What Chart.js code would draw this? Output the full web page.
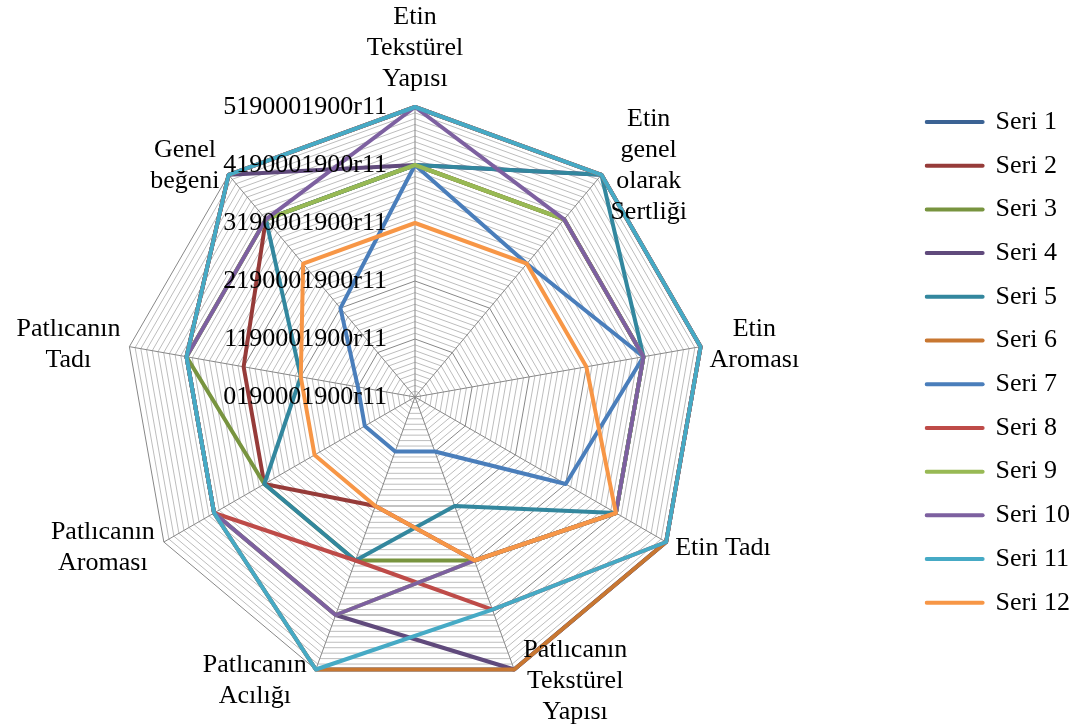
<!DOCTYPE html>
<html>
<head>
<meta charset="utf-8">
<script src="https://cdn.jsdelivr.net/npm/chart.js@4.4.0/dist/chart.umd.min.js"></script>
<style>
html,body{margin:0;padding:0;background:#ffffff;}
#wrap{width:1080px;height:727px;position:relative;}
</style>
</head>
<body>
<div id="wrap"><canvas id="c" width="1080" height="727"></canvas></div>
<script>
// ---- data ----
const categories = [
  ["Etin", "Tekstürel", "Yapısı"],
  ["Etin", "genel", "olarak", "Sertliği"],
  ["Etin", "Aroması"],
  ["Etin Tadı"],
  ["Patlıcanın", "Tekstürel", "Yapısı"],
  ["Patlıcanın", "Acılığı"],
  ["Patlıcanın", "Aroması"],
  ["Patlıcanın", "Tadı"],
  ["Genel", "beğeni"]
];
const seriesNames = ["Seri 1","Seri 2","Seri 3","Seri 4","Seri 5","Seri 6","Seri 7","Seri 8","Seri 9","Seri 10","Seri 11","Seri 12"];
const seri1  = [5, 5, 5, 5, 5,   5, 4, 4, 5];
const seri2  = [4, 4, 4, 4, 3,   2, 3, 3, 4];
const seri3  = [4, 4, 4, 4, 3,   3, 3, 4, 4];
const seri4  = [4, 5, 5, 5, 5,   4, 4, 4, 5];
const seri5  = [4, 5, 4, 4, 2,   3, 3, 2, 4];
const seri6  = [5, 5, 5, 5, 5,   5, 4, 4, 5];
const seri7  = [4, 3, 4, 3, 1,   1, 1, 1, 2];
const seri8  = [5, 5, 5, 5, 3.9, 3, 4, 4, 5];
const seri9  = [4, 4, 4, 4, 3,   4, 4, 4, 4];
const seri10 = [5, 4, 4, 4, 3,   4, 4, 4, 4];
const seri11 = [5, 5, 5, 5, 3.9, 5, 4, 4, 5];
const seri12 = [3, 3, 3, 4, 3,   2, 2, 2, 3];
const tickValues = [0, 1, 2, 3, 4, 5];
const tickLabels = ["0190001900r11","1190001900r11","2190001900r11","3190001900r11","4190001900r11","5190001900r11"];

// ---- styles ----
const seriesColors = ["#3b6394","#963b39","#78943f","#604a7c","#33879e","#c87731",
                      "#4a7ebb","#be4b48","#98b954","#7d60a0","#46aac5","#f79646"];
const FONT = '"Liberation Serif", "Times New Roman", serif';
const FONT_SIZE = 26;

const allValues = [seri1,seri2,seri3,seri4,seri5,seri6,seri7,seri8,seri9,seri10,seri11,seri12];

const datasets = seriesNames.map((name, i) => ({
  label: name,
  data: allValues[i],
  borderColor: seriesColors[i],
  backgroundColor: seriesColors[i],
  borderWidth: 4,
  fill: false,
  pointRadius: 0,
  pointHoverRadius: 0,
  pointHitRadius: 0,
  tension: 0,
  borderJoinStyle: 'round',
  borderCapStyle: 'round',
  order: seriesNames.length - 1 - i
}));

function isMajor(v) { return Math.abs(v - Math.round(v)) < 1e-6; }

const textPlugin = {
  id: 'excelTexts',
  afterDatasetsDraw(chart) {
    const s = chart.scales.r;
    const ctx = chart.ctx;
    ctx.save();
    ctx.fillStyle = '#000000';
    ctx.font = FONT_SIZE + 'px ' + FONT;
    ctx.textBaseline = 'middle';
    // value axis labels
    ctx.textAlign = 'right';
    tickValues.forEach((v, k) => {
      const d = s.getDistanceFromCenterForValue(v);
      ctx.fillText(tickLabels[k], s.xCenter - 28, s.yCenter - d);
    });
    // category labels
    const LH = 31;
    ctx.textAlign = 'center';
    categories.forEach((lines, i) => {
      const a = s.getIndexAngle(i);
      const p = s.getPointPosition(i, s.drawingArea);
      const sn = Math.sin(a), cs = Math.cos(a);
      const w = Math.max(...lines.map(t => ctx.measureText(t).width));
      const h = lines.length * LH;
      let cx, cy;
      if (Math.abs(sn) < 0.05) {
        cx = p.x;
        cy = cs > 0 ? p.y - 12 - h / 2 : p.y + 12 + h / 2;
      } else {
        cx = p.x + Math.sign(sn) * (9 + w / 2);
        cy = p.y - 12 * cs;
      }
      lines.forEach((t, j) => ctx.fillText(t, cx, cy - h / 2 + LH * (j + 0.5)));
    });
    ctx.restore();
  }
};

new Chart(document.getElementById('c'), {
  type: 'radar',
  data: { labels: categories, datasets: datasets },
  options: {
    responsive: false,
    animation: false,
    devicePixelRatio: 1,
    layout: { padding: { top: 107, bottom: 40, left: 125, right: 0 } },
    elements: { line: { tension: 0 } },
    scales: {
      r: {
        min: 0,
        max: 5,
        startAngle: 0,
        ticks: { display: false, stepSize: 0.1 },
        grid: {
          color: (c) => isMajor(c.tick.value) ? '#878787' : '#bdbdbd',
          lineWidth: 1
        },
        angleLines: { color: '#878787', lineWidth: 1 },
        pointLabels: { display: false },
        // keep the polygon flush with the left edge of the plot area, as in the original layout
        afterFit: (scale) => { scale.xCenter = Math.floor(scale.left + scale.drawingArea); }
      }
    },
    plugins: {
      tooltip: { enabled: false },
      legend: {
        position: 'right',
        align: 'start',
        labels: {
          usePointStyle: true,
          pointStyle: 'line',
          pointStyleWidth: 56,
          padding: 2,
          color: '#000000',
          font: { family: FONT, size: FONT_SIZE, lineHeight: 1.604 },
          generateLabels: (chart) => {
            const items = Chart.defaults.plugins.legend.labels.generateLabels(chart);
            items.sort((a, b) => a.datasetIndex - b.datasetIndex);
            items.forEach(it => { it.text = [it.text]; it.lineCap = 'round'; it.pointStyle = 'line'; });
            return items;
          }
        }
      }
    }
  },
  plugins: [textPlugin]
});
</script>
</body>
</html>
